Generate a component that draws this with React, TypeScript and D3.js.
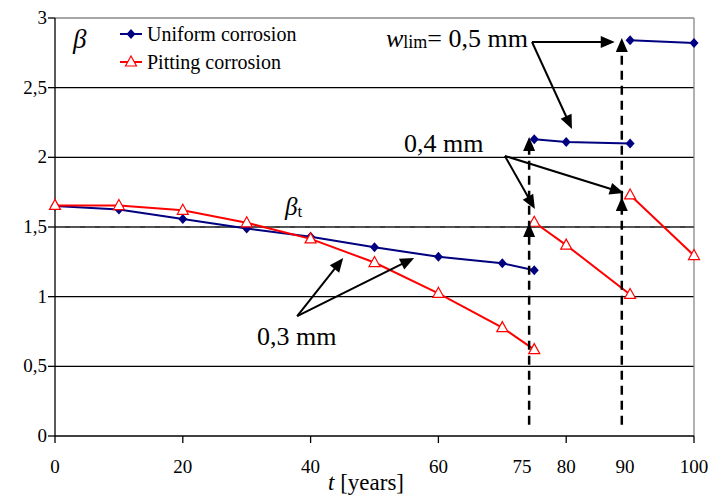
import React from "react";
import * as d3 from "d3";

// values
const yearsA = [0, 10, 20, 30, 40, 50, 60, 70, 75];
const uniformA = [1.65, 1.625, 1.558, 1.489, 1.43, 1.355, 1.286, 1.24, 1.19];
const pittingA = [1.655, 1.654, 1.62, 1.53, 1.415, 1.245, 1.024, 0.778, 0.62];

const yearsB = [75, 80, 90];
const uniformB = [2.13, 2.11, 2.1];
const pittingB = [1.534, 1.37, 1.016];

const yearsC = [90, 100];
const uniformC = [2.84, 2.82];
const pittingC = [1.73, 1.295];

const yTicks = [0, 0.5, 1, 1.5, 2, 2.5, 3];
const xTicks = [0, 20, 40, 60, 80, 100];
const xLabels = ["0", "20", "40", "60", "75", "80", "90", "100"];
const xLabelAt = [0, 20, 40, 60, 73.1, 80, 89.2, 100];

const betaTarget = 1.5;
const limitYears = [74.2, 88.7];

const W = 711, H = 496;
const margin = { left: 55, right: 17, top: 18, bottom: 60 };
const font = "Liberation Serif";
const BLUE = "#000080";
const RED = "#ff0000";

const x = d3.scaleLinear().domain([0, 100]).range([margin.left, W - margin.right]);
const y = d3.scaleLinear().domain([0, 3]).range([H - margin.bottom, margin.top]);

const line = d3.line<[number, number]>()
    .x(d => x(d[0]))
    .y(d => y(d[1]));

const zip = (xs: number[], ys: number[]) => xs.map((v, i) => [v, ys[i]] as [number, number]);

const uniformSegs = [zip(yearsA, uniformA), zip(yearsB, uniformB), zip(yearsC, uniformC)];
const pittingSegs = [zip(yearsA, pittingA), zip(yearsB, pittingB), zip(yearsC, pittingC)];

// annotation arrows, in data units: [fromX, fromY, toX, toY]
const arrows = [
    [74.65, 2.828, 87.6, 2.828],
    [74.65, 2.828, 80.9, 2.203],
    [70.4, 2.01, 75.1, 1.63],
    [70.4, 2.01, 89.0, 1.744],
    [37.9, 0.861, 45.1, 1.278],
    [37.9, 0.861, 56.2, 1.278],
];

function head(x1: number, y1: number, x2: number, y2: number, len = 14, half = 6) {
    const a = Math.atan2(y2 - y1, x2 - x1);
    const bx = x2 - len * Math.cos(a), by = y2 - len * Math.sin(a);
    const px = -Math.sin(a) * half, py = Math.cos(a) * half;
    return `${x2},${y2} ${bx + px},${by + py} ${bx - px},${by - py}`;
}

const Diamond = ({ cx, cy }: { cx: number; cy: number }) => (
    <path d={`M${cx},${cy - 5}L${cx + 4.5},${cy}L${cx},${cy + 5}L${cx - 4.5},${cy}Z`} fill={BLUE} />
);
const Tri = ({ cx, cy }: { cx: number; cy: number }) => (
    <path d={`M${cx},${cy - 6}L${cx + 5.5},${cy + 4}L${cx - 5.5},${cy + 4}Z`} fill="white" stroke={RED} strokeWidth={1.2} />
);

const App = () => {
    const x0 = x(0), x1 = x(100), yBot = y(0), yTop = y(3);
    return (
        <svg width={W} height={H} style={{ position: "absolute", left: 0, top: 0, background: "white" }}>
            {/* grid */}
            {yTicks.filter(t => t > 0 && t < 3).map(t => (
                <line key={t} x1={x0} x2={x1} y1={y(t)} y2={y(t)} stroke="black" strokeWidth={1.3} />
            ))}
            <line x1={x0} x2={x1} y1={yTop} y2={yTop} stroke="#888" strokeWidth={1.3} />
            <line x1={x1} x2={x1} y1={yTop} y2={yBot} stroke="#888" strokeWidth={1.3} />
            <line x1={x0} x2={x1} y1={y(betaTarget)} y2={y(betaTarget)} stroke="#555" strokeWidth={2.2} strokeDasharray="10,5" />

            {/* axes */}
            <line x1={x0} x2={x0} y1={yTop} y2={yBot} stroke="black" strokeWidth={1.3} />
            <line x1={x0} x2={x1} y1={yBot} y2={yBot} stroke="black" strokeWidth={1.3} />
            {yTicks.map(t => (
                <g key={t}>
                    <line x1={x0 - 7} x2={x0} y1={y(t)} y2={y(t)} stroke="black" strokeWidth={1.3} />
                    <text x={x0 - 8} y={y(t) + 6} textAnchor="end" fontSize={19} fontFamily={font}>{String(t).replace(".", ",")}</text>
                </g>
            ))}
            {xTicks.map(t => (
                <line key={t} x1={x(t)} x2={x(t)} y1={yBot} y2={yBot + 7} stroke="black" strokeWidth={1.3} />
            ))}
            {xLabels.map((l, i) => (
                <text key={l} x={x(xLabelAt[i])} y={yBot + 37} textAnchor="middle" fontSize={19} fontFamily={font}>{l}</text>
            ))}
            <text x={366} y={490} textAnchor="middle" fontSize={23} fontFamily={font}>
                <tspan fontStyle="italic">t</tspan> [years]
            </text>

            {/* series */}
            {uniformSegs.map((s, i) => (
                <g key={"u" + i}>
                    <path d={line(s) || ""} fill="none" stroke={BLUE} strokeWidth={2} />
                    {s.map((d, j) => <Diamond key={j} cx={x(d[0])} cy={y(d[1])} />)}
                </g>
            ))}
            {pittingSegs.map((s, i) => (
                <g key={"p" + i}>
                    <path d={line(s) || ""} fill="none" stroke={RED} strokeWidth={2} />
                    {s.map((d, j) => <Tri key={j} cx={x(d[0])} cy={y(d[1])} />)}
                </g>
            ))}

            {/* limit dashed arrows */}
            {limitYears.map((t, i) => {
                const tops = i === 0 ? [2.146, 1.529] : [2.857, 1.715];
                const lx = x(t);
                return (
                    <g key={"lim" + i}>
                        <line x1={lx} x2={lx} y1={y(0.08)} y2={y(tops[0]) + 10} stroke="black" strokeWidth={2.5} strokeDasharray="9,6" />
                        {tops.map(v => (
                            <polygon key={v} points={head(lx, y(v) + 20, lx, y(v), 14, 6)} fill="black" />
                        ))}
                    </g>
                );
            })}

            {/* annotation arrows */}
            {arrows.map((a, i) => {
                const [ax, ay, bx, by] = [x(a[0]), y(a[1]), x(a[2]), y(a[3])];
                const ang = Math.atan2(by - ay, bx - ax);
                return (
                    <g key={"a" + i}>
                        <line x1={ax} y1={ay} x2={bx - 10 * Math.cos(ang)} y2={by - 10 * Math.sin(ang)} stroke="black" strokeWidth={2} />
                        <polygon points={head(ax, ay, bx, by)} fill="black" />
                    </g>
                );
            })}

            {/* labels */}
            <text x={73} y={48} fontSize={27} fontStyle="italic" fontFamily={font}>β</text>
            <text x={285} y={215} fontSize={25} fontFamily={font}>
                <tspan fontStyle="italic">β</tspan><tspan fontSize={17} dy={2}>t</tspan>
            </text>
            <text x={386} y={47} fontSize={26} fontFamily={font}>
                <tspan fontStyle="italic">w</tspan><tspan fontSize={18} dy={1}>lim</tspan><tspan dy={-1}>= 0,5 mm</tspan>
            </text>
            <text x={404} y={152} fontSize={26} fontFamily={font}>0,4 mm</text>
            <text x={257} y={345} fontSize={26} fontFamily={font}>0,3 mm</text>

            {/* legend */}
            <line x1={120} x2={142} y1={34} y2={34} stroke={BLUE} strokeWidth={2} />
            <Diamond cx={131} cy={34} />
            <text x={147} y={41} fontSize={20} fontFamily={font}>Uniform corrosion</text>
            <line x1={120} x2={142} y1={62} y2={62} stroke={RED} strokeWidth={2} />
            <Tri cx={131} cy={62} />
            <text x={147} y={69} fontSize={20} fontFamily={font}>Pitting corrosion</text>
        </svg>
    );
};

export default App;
